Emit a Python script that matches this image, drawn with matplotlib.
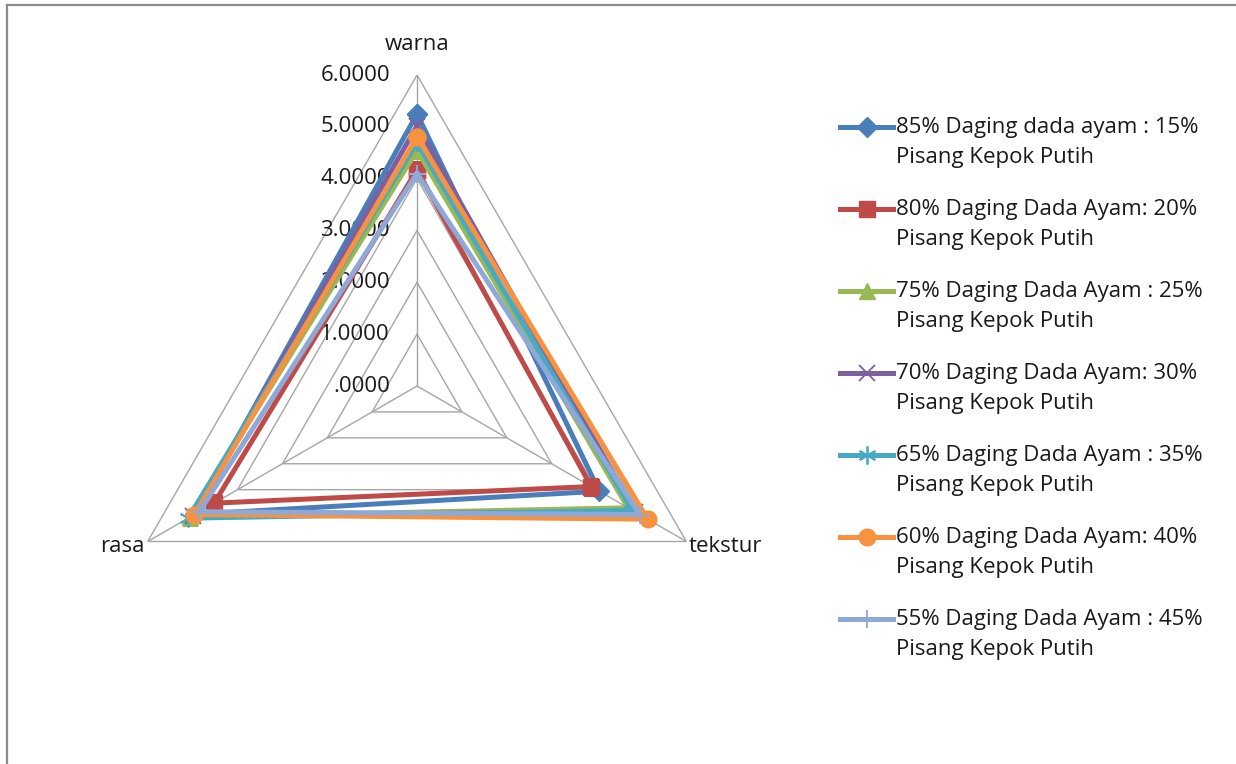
import numpy as np
import matplotlib
matplotlib.use('Agg')
import matplotlib.pyplot as plt
from matplotlib.lines import Line2D

plt.rcParams['font.family'] = ['Open Sans', 'DejaVu Sans']

# data
kategori = ['warna', 'tekstur', 'rasa']
label_seri = [
    '85% Daging dada ayam : 15%\nPisang Kepok Putih',
    '80% Daging Dada Ayam: 20%\nPisang Kepok Putih',
    '75% Daging Dada Ayam : 25%\nPisang Kepok Putih',
    '70% Daging Dada Ayam: 30%\nPisang Kepok Putih',
    '65% Daging Dada Ayam : 35%\nPisang Kepok Putih',
    '60% Daging Dada Ayam: 40%\nPisang Kepok Putih',
    '55% Daging Dada Ayam : 45%\nPisang Kepok Putih',
]
nilai_85 = [5.25, 4.06, 4.95]
nilai_80 = [4.17, 3.88, 4.52]
nilai_75 = [4.55, 4.70, 5.05]
nilai_70 = [5.02, 4.85, 5.00]
nilai_65 = [4.70, 4.80, 5.10]
nilai_60 = [4.81, 5.14, 4.96]
nilai_55 = [4.10, 4.96, 4.85]
ticks = [0, 1, 2, 3, 4, 5, 6]
tick_labels = ['.0000', '1.0000', '2.0000', '3.0000', '4.0000', '5.0000', '6.0000']

semua = [nilai_85, nilai_80, nilai_75, nilai_70, nilai_65, nilai_60, nilai_55]
warna_garis = ['#4A7EBB', '#BE4B48', '#98B954', '#7D60A0', '#46AAC5', '#F69240', '#8EA9D8']
penanda = ['D', 's', '^', 'x', (6, 2, 0), 'o', '+']
ukuran = [10, 11, 12, 11, 13, 12, 13]
fs = 16

W, H = 1236, 764
fig = plt.figure(figsize=(12.36, 7.64), dpi=100)
ax = fig.add_axes([0.0858, 0.0877, 0.5032, 0.8141], projection='polar')
ax.set_theta_offset(np.pi / 2)
ax.set_theta_direction(-1)
ax.set_ylim(0, 6)
ax.grid(False)
ax.spines['polar'].set_visible(False)
ax.set_xticks([])
ax.set_yticks([])
ax.patch.set_alpha(0)

sudut = np.linspace(0, 2 * np.pi, len(kategori), endpoint=False)
sudut_tutup = np.append(sudut, sudut[0])

# grid segitiga
for t in ticks[1:]:
    ax.plot(sudut_tutup, [t] * 4, color='#A6A6A6', lw=1, zorder=1)
for s in sudut:
    ax.plot([s, s], [0, 6], color='#A6A6A6', lw=1, zorder=1)

for t, lab in zip(ticks, tick_labels):
    ax.annotate(lab, (0, t), xytext=(-27, 0), textcoords='offset pixels',
                ha='right', va='center', fontsize=fs, color='#1a1a1a')

for i, vals in enumerate(semua):
    v = vals + [vals[0]]
    ax.plot(sudut_tutup, v, color=warna_garis[i], lw=3.6, marker=penanda[i],
            markersize=ukuran[i], markeredgewidth=1.3 if i in (3, 4, 6) else 1,
            zorder=3 + i)

ax.annotate(kategori[0], (sudut[0], 6), xytext=(0, 31), textcoords='offset pixels',
            ha='center', va='center', fontsize=fs, color='#1a1a1a')
ax.annotate(kategori[1], (sudut[1], 6), xytext=(2, -5), textcoords='offset pixels',
            ha='left', va='center', fontsize=fs, color='#1a1a1a')
ax.annotate(kategori[2], (sudut[2], 6), xytext=(-3, -5), textcoords='offset pixels',
            ha='right', va='center', fontsize=fs, color='#1a1a1a')

# legenda manual (penanda sejajar baris pertama)
for i, lab in enumerate(label_seri):
    y1 = 1 - (127 + 82 * i) / H
    y2 = 1 - (157 + 82 * i) / H
    baris1, baris2 = lab.split('\n')
    fig.add_artist(Line2D([840 / W, 893 / W], [y1, y1], color=warna_garis[i], lw=3.6))
    fig.add_artist(Line2D([866.5 / W], [y1], color=warna_garis[i], marker=penanda[i],
                          markersize=ukuran[i], markeredgewidth=1.3 if i in (3, 4, 6) else 1))
    fig.text(896 / W, y1, baris1, ha='left', va='center', fontsize=fs, color='#1a1a1a')
    fig.text(896 / W, y2, baris2, ha='left', va='center', fontsize=fs, color='#1a1a1a')

# bingkai
fig.add_artist(Line2D([7 / W, 1], [1 - 5 / H, 1 - 5 / H], color='#8C8C8C', lw=1.6))
fig.add_artist(Line2D([7 / W, 7 / W], [0, 1 - 5 / H], color='#8C8C8C', lw=1.6))

fig.savefig('out.png', dpi=100)
